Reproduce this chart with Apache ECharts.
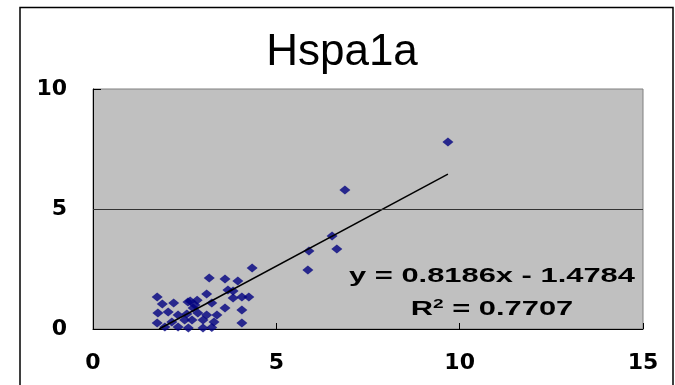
<!DOCTYPE html>
<html>
<head>
<meta charset="utf-8">
<script src="https://cdn.jsdelivr.net/npm/echarts@6/dist/echarts.min.js"></script>
<style>
html, body { margin: 0; padding: 0; background: #fff; }
#chart { width: 675px; height: 385px; }
</style>
</head>
<body>
<div id="chart"></div>
<script>
// values
var xValues = [1.75, 1.89, 2.2, 2.65, 2.84, 3.1, 3.17, 1.77, 2.05, 2.32,
               2.73, 2.86, 1.75, 2.15, 2.5, 2.7, 3.0, 3.1, 3.38, 1.96,
               2.32, 2.6, 3.0, 3.3, 3.24, 4.34, 3.6, 3.95, 3.68, 3.82,
               3.82, 4.06, 4.25, 3.24, 3.6, 4.06, 4.06, 2.59, 2.78, 2.56,
               5.89, 5.86, 6.52, 6.65, 6.87, 9.68];
var yValues = [1.33, 1.04, 1.08, 1.17, 1.2, 1.46, 2.13, 0.67, 0.71, 0.58,
               0.88, 0.67, 0.25, 0.29, 0.38, 0.38, 0.38, 0.58, 0.58, 0.08,
               0.08, 0.04, 0.04, 0.29, 0.06, 2.54, 2.08, 2.0, 1.63, 1.58,
               1.29, 1.33, 1.33, 1.08, 0.88, 0.79, 0.25, 1.13, 1.0, 0.63,
               3.25, 2.46, 3.88, 3.33, 5.79, 7.79];
var trendX = [1.8, 9.68];
var trendY = [0.0, 6.45];
var xTicks = [0, 5, 10, 15];
var yTicks = [0, 5, 10];
var titleText = 'Hspa1a';
var equationText = 'y = 0.8186x - 1.4784';
var rSquaredText = '0.7707';

var points = [];
for (var i = 0; i < xValues.length; i++) {
    points.push([xValues[i], yValues[i]]);
}
var trend = [];
for (var j = 0; j < trendX.length; j++) {
    trend.push([trendX[j], trendY[j]]);
}

var myChart = echarts.init(document.getElementById('chart'), null, { renderer: 'canvas' });

var labelStyle = {
    color: '#000',
    fontFamily: 'DejaVu Sans',
    fontWeight: 'bold',
    fontSize: 22
};

var option = {
    backgroundColor: '#fff',
    animation: false,
    grid: {
        left: 93, top: 89, width: 550, height: 240,
        show: true,
        backgroundColor: '#c0c0c0',
        borderColor: '#808080',
        borderWidth: 1
    },
    xAxis: {
        type: 'value',
        min: xTicks[0],
        max: xTicks[xTicks.length - 1],
        interval: xTicks[1] - xTicks[0],
        axisLine: { show: true, onZero: false, lineStyle: { color: '#000', width: 1 } },
        axisTick: { show: true, inside: true, length: 6, lineStyle: { color: '#000' } },
        splitLine: { show: false },
        axisLabel: Object.assign({ margin: 23 }, labelStyle)
    },
    yAxis: {
        type: 'value',
        min: yTicks[0],
        max: yTicks[yTicks.length - 1],
        interval: yTicks[1] - yTicks[0],
        axisLine: { show: true, onZero: false, lineStyle: { color: '#000', width: 1 } },
        axisTick: { show: true, inside: true, length: 8, lineStyle: { color: '#000' } },
        splitLine: { show: false },
        axisLabel: Object.assign({ margin: 26 }, labelStyle)
    },
    series: [{
        type: 'scatter',
        symbol: 'diamond',
        symbolSize: [11, 9],
        itemStyle: { color: '#000080' },
        data: points,
        markLine: {
            silent: true,
            symbol: 'none',
            label: { show: false },
            lineStyle: { color: '#333', width: 1, type: 'solid' },
            data: [{ yAxis: yTicks[1] }]
        },
        z: 3
    }, {
        type: 'line',
        data: trend,
        symbol: 'none',
        lineStyle: { color: '#000', width: 1.5 },
        z: 4
    }],
    graphic: [{
        type: 'rect',
        shape: { x: 20, y: 7.5, width: 653, height: 420 },
        style: { fill: 'none', stroke: '#000', lineWidth: 1.5 },
        z: 10
    }, {
        type: 'text',
        x: 342, y: 53,
        style: {
            text: titleText,
            fontFamily: 'Liberation Sans',
            fontSize: 44,
            fill: '#000',
            textAlign: 'center',
            textVerticalAlign: 'middle'
        },
        z: 10
    }, {
        type: 'text',
        x: 492, y: 276,
        scaleX: 1.47,
        style: {
            text: equationText,
            fontFamily: 'Liberation Sans',
            fontWeight: 'bold',
            fontSize: 21,
            fill: '#000',
            textAlign: 'center',
            textVerticalAlign: 'middle'
        },
        z: 10
    }, {
        type: 'text',
        x: 492, y: 309,
        scaleX: 1.47,
        style: {
            text: '{a|R}{s|2}{a| = ' + rSquaredText + '}',
            textAlign: 'center',
            textVerticalAlign: 'middle',
            rich: {
                a: { fontFamily: 'Liberation Sans', fontWeight: 'bold', fontSize: 21, color: '#000', lineHeight: 22, verticalAlign: 'bottom' },
                s: { fontFamily: 'Liberation Sans', fontWeight: 'bold', fontSize: 13, color: '#000', verticalAlign: 'top', lineHeight: 13 }
            }
        },
        z: 10
    }]
};

if (option)
    myChart.setOption(option);
</script>
</body>
</html>
